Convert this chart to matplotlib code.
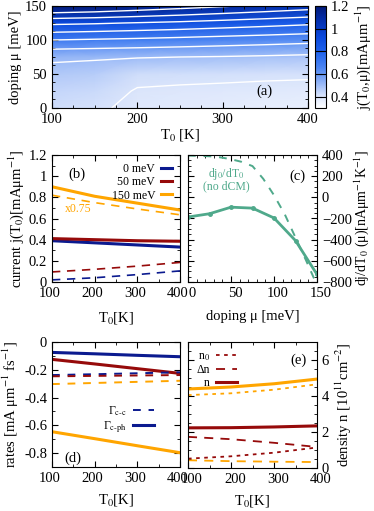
import numpy as np
import matplotlib
matplotlib.use('Agg')
import matplotlib.pyplot as plt
import matplotlib.transforms as mtransforms
from matplotlib.colors import LinearSegmentedColormap
from matplotlib.ticker import MultipleLocator

plt.rcParams['font.family'] = ['Liberation Serif', 'DejaVu Serif']
plt.rcParams['mathtext.fontset'] = 'stix'
plt.rcParams['font.size'] = 10.5

# ---------------- data ----------------
# (a) current map j(T0, mu)
T_map  = [100, 150, 200, 250, 300, 350, 400]
mu_map = [0, 25, 50, 75, 100, 125, 150]
j_map = [
    [0.42, 0.41, 0.385, 0.378, 0.372, 0.366, 0.36],
    [0.44, 0.43, 0.395, 0.39, 0.387, 0.383, 0.38],
    [0.47, 0.46, 0.42, 0.418, 0.415, 0.412, 0.41],
    [0.515, 0.51, 0.505, 0.50, 0.495, 0.488, 0.48],
    [0.70, 0.69, 0.68, 0.668, 0.655, 0.643, 0.63],
    [0.92, 0.91, 0.895, 0.88, 0.86, 0.84, 0.82],
    [1.22, 1.20, 1.17, 1.14, 1.11, 1.08, 1.05],
]
levels_a = [0.4, 0.5, 0.6, 0.7, 0.8, 0.9, 1.0, 1.1]

# (b) current vs T0
T = [100, 200, 300, 400]
j_0   = [0.39, 0.37, 0.35, 0.33]
j_50  = [0.41, 0.40, 0.39, 0.385]
j_150 = [0.90, 0.81, 0.745, 0.68]
j0_0   = [0.02, 0.04, 0.07, 0.105]
j0_50  = [0.095, 0.12, 0.15, 0.185]
j0_150 = [0.82, 0.75, 0.69, 0.635]

# (c) dj/dT0 vs doping
mu_c = [0, 25, 50, 75, 100, 125, 150]
djdT = [-186, -155, -93, -102, -195, -409, -728]
mu_c0 = [0, 12.5, 25, 37.5, 50, 62.5, 75, 87.5, 100, 112.5, 125, 137.5, 150]
dj0dT = [395, 392, 388, 378, 360, 335, 295, 175, 20, -160, -380, -600, -830]

# (d) rates
g_cc_0    = [-0.238, -0.232, -0.225, -0.218]
g_cc_50   = [-0.247, -0.244, -0.241, -0.238]
g_cc_150  = [-0.303, -0.295, -0.287, -0.279]
g_cph_0   = [-0.075, -0.085, -0.096, -0.106]
g_cph_50  = [-0.125, -0.158, -0.192, -0.226]
g_cph_150 = [-0.646, -0.696, -0.747, -0.797]

# (e) densities
n_50    = [2.23, 2.24, 2.28, 2.34]
dn_50   = [1.73, 1.6, 1.4, 1.17]
n0_50   = [0.52, 0.65, 0.85, 1.14]
n_150   = [4.39, 4.5, 4.68, 4.94]
dn_150  = [0.43, 0.38, 0.35, 0.33]
n0_150  = [4.05, 4.15, 4.35, 4.65]

navy = '#0b1a8f'
red = '#960a0a'
orange = '#ffa500'
teal = '#4fa98b'

W, H = 374, 511
fig = plt.figure(figsize=(W/100, H/100), dpi=100)

def box(l, t, r, b):
    return [l/W, 1-b/H, (r-l)/W, (b-t)/H]

def ticks(ax, xminor, yminor):
    ax.tick_params(which='both', direction='in', top=True, right=True, labelsize=10.5)
    ax.tick_params(which='major', length=4)
    ax.tick_params(which='minor', length=2)
    ax.xaxis.set_minor_locator(MultipleLocator(xminor))
    ax.yaxis.set_minor_locator(MultipleLocator(yminor))

def shift_xlabels(ax, dx):
    off = mtransforms.ScaledTranslation(dx/100, 0, fig.dpi_scale_trans)
    for lab in ax.get_xticklabels():
        lab.set_transform(lab.get_transform() + off)

# ---- (a)
ax_a = fig.add_axes(box(52, 6, 308, 108))
cmap = LinearSegmentedColormap.from_list('jb', [
    (0.0, '#ffffff'), (0.12, '#d6e2fb'), (0.25, '#8fb2f6'), (0.4, '#4a84f2'),
    (0.55, '#1f62ec'), (0.7, '#0a48dc'), (0.85, '#0330b0'), (1.0, '#021a78')])
pm = ax_a.pcolormesh(T_map, mu_map, j_map, shading='gouraud', cmap=cmap, vmin=0.3, vmax=1.2)
ax_a.contour(T_map, mu_map, j_map, levels=levels_a, colors='white', linewidths=1.0)
ax_a.set_xlim(100, 400)
ax_a.set_ylim(0, 150)
ax_a.set_xticks([100, 200, 300, 400])
ax_a.set_yticks([0, 50, 100, 150])
ticks(ax_a, 25, 12.5)
ax_a.set_xlabel('T$_0$ [K]', labelpad=1)
ax_a.set_ylabel('doping μ [meV]', labelpad=2)
ax_a.text(340, 20, '(a)')

cax = fig.add_axes(box(315, 6, 326, 108))
cb = fig.colorbar(pm, cax=cax)
cb.set_ticks([0.4, 0.6, 0.8, 1.0, 1.2])
cb.set_ticklabels(['0.4', '0.6', '0.8', '1', '1.2'])
cax.tick_params(direction='in', left=True, right=True, length=4, labelsize=10.5)
cb.set_label('j(T$_0$,μ)[mAμm$^{-1}$]', labelpad=3)

# ---- (b)
ax_b = fig.add_axes(box(52, 155, 180, 282))
l0, = ax_b.plot(T, j_0, color=navy, lw=2.2)
l50, = ax_b.plot(T, j_50, color=red, lw=2.2)
l150, = ax_b.plot(T, j_150, color=orange, lw=2.2)
ax_b.plot(T, j0_0, color=navy, lw=1.2, ls=(0, (5, 4)))
ax_b.plot(T, j0_50, color=red, lw=1.2, ls=(0, (5, 4)))
ax_b.plot(T, j0_150, color=orange, lw=1.2, ls=(0, (5, 4)))
ax_b.set_xlim(100, 400)
ax_b.set_ylim(0, 1.2)
ax_b.set_xticks([100, 200, 300, 400])
ax_b.set_yticks([0, 0.2, 0.4, 0.6, 0.8, 1.0, 1.2])
ax_b.set_yticklabels(['0', '0.2', '0.4', '0.6', '0.8', '1', '1.2'])
ticks(ax_b, 50, 0.1)
shift_xlabels(ax_b, -2)
ax_b.set_xlabel('T$_0$[K]', labelpad=7)
ax_b.set_ylabel('current j(T$_0$)[mAμm$^{-1}$]', labelpad=2)
ax_b.text(0.13, 0.82, '(b)', transform=ax_b.transAxes)
ax_b.text(130, 0.66, 'x0.75', color=orange, fontsize=8.5)
ax_b.legend([l0, l50, l150], ['0 meV', '50 meV', '150 meV'], loc='upper right',
            frameon=False, markerfirst=False, handlelength=0.9, fontsize=8.5,
            labelspacing=0.1, borderaxespad=0.3, handletextpad=0.5)

# ---- (c)
ax_c = fig.add_axes(box(188, 155, 317, 282))
ax_c.plot(mu_c, djdT, color=teal, lw=2.0, marker='o', ms=2.5)
ax_c.plot(mu_c0, dj0dT, color=teal, lw=1.4, ls=(0, (4, 4)))
ax_c.set_xlim(0, 150)
ax_c.set_ylim(-800, 400)
ax_c.set_xticks([0, 50, 100, 150])
ax_c.set_yticks(range(-800, 401, 200))
ticks(ax_c, 10, 50)
shift_xlabels(ax_c, 4)
ax_c.yaxis.tick_right()
ax_c.tick_params(which='both', left=True)
ax_c.yaxis.set_label_position('right')
ax_c.set_xlabel('doping μ [meV]', labelpad=7)
ax_c.set_ylabel('dj/dT$_0$ (μ)[nAμm$^{-1}$K$^{-1}$]', labelpad=0, fontsize=10)
ax_c.text(127, 200, '(c)', ha='center', va='center')
ax_c.text(45, 221, 'dj$_0$/dT$_0$', color=teal, ha='center', va='center', fontsize=8.5)
ax_c.text(45, 100, '(no dCM)', color=teal, ha='center', va='center', fontsize=8.5)

# ---- (d)
ax_d = fig.add_axes(box(52, 342, 180, 467))
ax_d.plot(T, g_cph_0, color=navy, lw=2.2)
ax_d.plot(T, g_cph_50, color=red, lw=2.2)
ax_d.plot(T, g_cph_150, color=orange, lw=2.2)
ax_d.plot(T, g_cc_0, color=navy, lw=1.4, ls=(0, (4, 4)))
ax_d.plot(T, g_cc_50, color=red, lw=1.4, ls=(0, (4, 4)))
ax_d.plot(T, g_cc_150, color=orange, lw=1.4, ls=(0, (4, 4)))
hcc, = ax_d.plot([], [], color=navy, lw=1.4, ls=(0, (4, 4)))
hcph, = ax_d.plot([], [], color=navy, lw=2.2)
ax_d.set_xlim(100, 400)
ax_d.set_ylim(-0.9, 0)
ax_d.set_xticks([100, 200, 300, 400])
ax_d.set_yticks([-0.8, -0.6, -0.4, -0.2, 0])
ax_d.set_yticklabels(['-0.8', '-0.6', '-0.4', '-0.2', '0'])
ticks(ax_d, 50, 0.1)
shift_xlabels(ax_d, -2)
ax_d.set_xlabel('T$_0$[K]', labelpad=5)
ax_d.set_ylabel('rates [mA μm$^{-1}$ fs$^{-1}$]', labelpad=2)
ax_d.text(0.1, 0.04, '(d)', transform=ax_d.transAxes)
ax_d.legend([hcc, hcph], ['Γ$_{\\rm c\\text{-}c}$', 'Γ$_{\\rm c\\text{-}ph}$'], loc='center right',
            bbox_to_anchor=(0.88, 0.38), frameon=False, markerfirst=False,
            handlelength=1.8, fontsize=8.5, labelspacing=0.1, handletextpad=0.5)

# ---- (e)
ax_e = fig.add_axes(box(188, 342, 317, 468))
ax_e.plot(T, n_150, color=orange, lw=2.2)
ax_e.plot(T, n0_150, color=orange, lw=1.3, ls=(0, (2, 2.5)))
ax_e.plot(T, dn_150, color=orange, lw=1.3, ls=(0, (5, 4)))
hn, = ax_e.plot(T, n_50, color=red, lw=2.2)
hn0, = ax_e.plot(T, n0_50, color=red, lw=1.3, ls=(0, (2, 2.5)))
hdn, = ax_e.plot(T, dn_50, color=red, lw=1.3, ls=(0, (5, 4)))
ax_e.set_xlim(100, 400)
ax_e.set_ylim(0, 7)
ax_e.set_xticks([100, 200, 300, 400])
ax_e.set_yticks([0, 2, 4, 6])
ticks(ax_e, 50, 0.5)
shift_xlabels(ax_e, 4)
ax_e.yaxis.tick_right()
ax_e.tick_params(which='both', left=True)
ax_e.yaxis.set_label_position('right')
ax_e.set_xlabel('T$_0$[K]', labelpad=5)
ax_e.set_ylabel('density n [10$^{11}$cm$^{-2}$]', labelpad=3)
ax_e.text(0.86, 0.83, '(e)', transform=ax_e.transAxes, ha='center')
ax_e.legend([hn0, hdn, hn], ['n$_0$', 'Δn', 'n'], loc='upper left',
            frameon=False, markerfirst=False, handlelength=1.8, fontsize=8.5,
            labelspacing=0.1, handletextpad=0.5, borderaxespad=0.3)

fig.savefig('out.png', dpi=100)
